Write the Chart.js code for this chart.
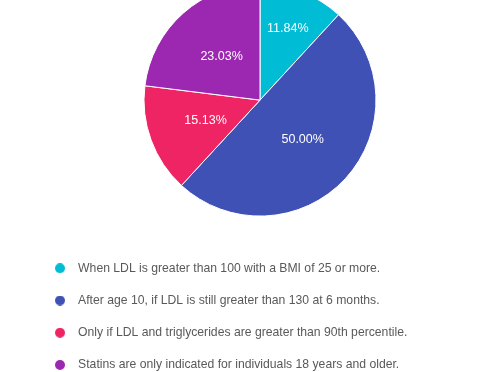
<!DOCTYPE html>
<html>
<head>
<meta charset="utf-8">
<script src="https://cdn.jsdelivr.net/npm/chart.js@4/dist/chart.umd.min.js"></script>
<style>
  html, body { margin: 0; padding: 0; background: #fff; overflow: hidden; width: 488px; height: 372px; }
  #wrap { position: absolute; left: 0; top: -42px; }
</style>
</head>
<body>
<div id="wrap"><canvas id="pieChart" width="500" height="423"></canvas></div>
<script>
const labels = [
    'When LDL is greater than 100 with a BMI of 25 or more.',
    'After age 10, if LDL is still greater than 130 at 6 months.',
    'Only if LDL and triglycerides are greater than 90th percentile.',
    'Statins are only indicated for individuals 18 years and older.'
];
const responses = [18, 76, 23, 35];
const colors = ['#00bcd4', '#3f51b5', '#ef2464', '#9c27b0'];

// small round markers for the legend
function dot(color) {
    const c = document.createElement('canvas');
    c.width = 10; c.height = 10;
    const g = c.getContext('2d');
    g.fillStyle = color;
    g.beginPath();
    g.arc(5, 5, 5, 0, Math.PI * 2);
    g.fill();
    return c;
}

const sliceLabels = {
    id: 'sliceLabels',
    afterDatasetsDraw(chart) {
        const ctx = chart.ctx;
        const meta = chart.getDatasetMeta(0);
        const total = responses.reduce((a, b) => a + b, 0);
        ctx.save();
        ctx.fillStyle = '#fff';
        ctx.font = '12.5px "Liberation Sans", Arial, sans-serif';
        ctx.textAlign = 'center';
        ctx.textBaseline = 'middle';
        meta.data.forEach((arc, i) => {
            const p = arc.getProps(['x', 'y', 'startAngle', 'endAngle', 'outerRadius']);
            const share = responses[i] / total;
            const mid = (p.startAngle + p.endAngle) / 2;
            const d = p.outerRadius * (share < 0.13 ? 0.66 : 0.5);
            ctx.fillText((share * 100).toFixed(2) + '%', p.x + Math.cos(mid) * d, p.y + Math.sin(mid) * d);
        });
        ctx.restore();
    }
};

const ctx = document.getElementById('pieChart').getContext('2d');
new Chart(ctx, {
    type: 'pie',
    data: {
        labels: labels,
        datasets: [{
            data: responses,
            backgroundColor: colors,
            borderColor: '#fff',
            borderWidth: 1,
            radius: 116
        }]
    },
    options: {
        responsive: false,
        animation: false,
        layout: { padding: { left: 28, right: 8, top: 0, bottom: 0 } },
        plugins: {
            tooltip: { enabled: false },
            legend: {
                position: 'bottom',
                align: 'start',
                labels: {
                    usePointStyle: true,
                    pointStyleWidth: 24,
                    padding: 20,
                    color: '#595959',
                    font: { size: 12.2, family: '"Liberation Sans", Arial, sans-serif' },
                    generateLabels(chart) {
                        const items = Chart.overrides.pie.plugins.legend.labels.generateLabels(chart);
                        items.forEach((it, i) => { it.pointStyle = dot(colors[i]); });
                        return items;
                    }
                }
            }
        }
    },
    plugins: [sliceLabels]
});
</script>
</body>
</html>
